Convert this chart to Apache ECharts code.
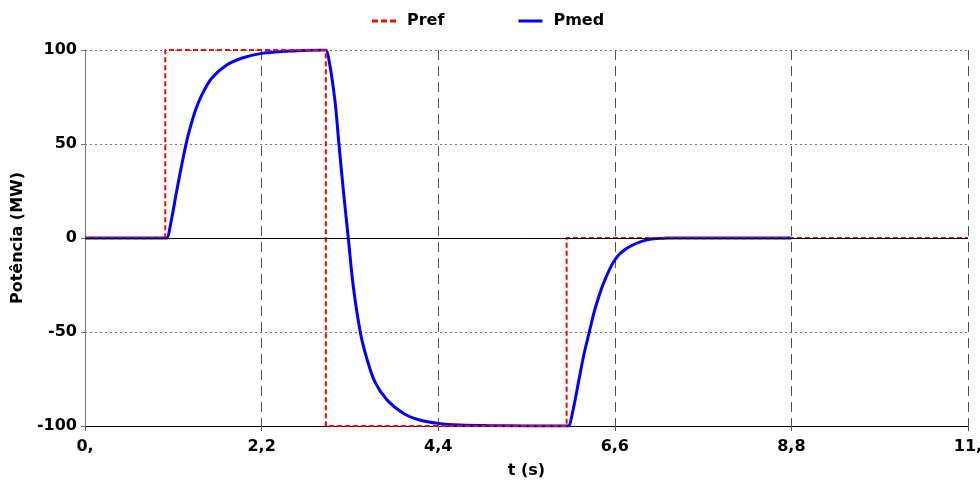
<!DOCTYPE html>
<html>
<head>
<meta charset="utf-8">
<script src="https://cdn.jsdelivr.net/npm/echarts@6/dist/echarts.min.js"></script>
<style>
  html, body { margin: 0; padding: 0; background: #fff; }
  #chart { width: 980px; height: 487px; }
</style>
</head>
<body>
<div id="chart"></div>
<script>
// Pref: reference step signal
const prefTime = [0, 1.0, 1.0, 3.0, 3.0, 6.0, 6.0, 11];
const prefValue = [0, 0, 100, 100, -100, -100, 0, 0];

const pmedTime = [0, 0.99, 1.017, 1.08, 1.14, 1.205, 1.258, 1.308, 1.37, 1.454, 1.578, 1.765, 1.97, 2.2, 2.6, 2.95, 3.0,
    3.05, 3.115, 3.164, 3.22, 3.28, 3.34, 3.43, 3.51, 3.61, 3.76, 3.97, 4.17, 4.4, 4.67, 5.0, 5.98, 6.02,
    6.08, 6.145, 6.21, 6.28, 6.35, 6.46, 6.6, 6.75, 7.0, 7.29, 7.6, 8.8];
const pmedValue = [0, 0, 0, 10.5, 24.6, 38.8, 49.8, 58.3, 67.2, 76, 85, 92, 95.9, 98.2, 99.5, 100, 100,
    92, 72.5, 49.8, 24.6, 0, -25, -50.2, -64, -76.4, -86, -93.3, -96.8, -98.6, -99.5, -99.8, -100, -100,
    -91.5, -77.3, -63, -50.4, -38.3, -24, -11.7, -5.5, -1, 0, 0, 0];

const xTicks = ['0,', '2,2', '4,4', '6,6', '8,8', '11,'];

const pairs = (t, v) => t.map((x, i) => [x, v[i]]);

const font = { fontFamily: 'DejaVu Sans', fontWeight: 'bold', fontSize: 16, color: '#000' };

const chart = echarts.init(document.getElementById('chart'));
chart.setOption({
    animation: false,
    legend: {
        top: 8,
        left: 367,
        itemWidth: 24,
        itemHeight: 3,
        itemGap: 74,
        textStyle: { ...font, padding: [0, 0, 0, 6] },
        data: [
            { name: 'Pref', icon: 'path://M0,0h6v3h-6z M9,0h6v3h-6z M18,0h6v3h-6z' },
            { name: 'Pmed', icon: 'rect' }
        ]
    },
    grid: { left: 85, right: 12, top: 50, bottom: 61, outerBoundsMode: 'none' },
    xAxis: {
        type: 'value',
        min: 0,
        max: 11,
        interval: 2.2,
        name: 't (s)',
        nameLocation: 'middle',
        nameGap: 37,
        nameTextStyle: font,
        axisLine: { onZero: false, lineStyle: { color: '#000', width: 1 } },
        axisTick: { show: true, length: 5, lineStyle: { color: '#555' } },
        axisLabel: {
            ...font,
            margin: 13,
            formatter: v => xTicks[Math.round(v / 2.2)]
        },
        splitLine: { show: true, lineStyle: { color: '#555', type: [10, 6], width: 1 } }
    },
    yAxis: {
        type: 'value',
        min: -100,
        max: 100,
        interval: 50,
        name: 'Potência (MW)',
        nameLocation: 'middle',
        nameGap: 54,
        nameTextStyle: font,
        axisLine: { show: true, lineStyle: { color: '#777', width: 1 } },
        axisTick: { show: true, length: 4, lineStyle: { color: '#777' } },
        axisLabel: { ...font, margin: 8 },
        splitLine: { show: true, lineStyle: { color: '#777', type: [2, 3], width: 1 } }
    },
    series: [
        {
            name: 'Pref',
            type: 'line',
            data: pairs(prefTime, prefValue),
            symbol: 'none',
            color: '#ff0000',
            lineStyle: { color: '#ff0000', width: 2, type: [5, 3] },
            markLine: {
                silent: true,
                symbol: 'none',
                label: { show: false },
                lineStyle: { color: '#000', type: 'solid', width: 1 },
                data: [{ yAxis: 0 }]
            },
            z: 3
        },
        {
            name: 'Pmed',
            type: 'line',
            data: pairs(pmedTime, pmedValue),
            symbol: 'none',
            smooth: 0.3,
            color: '#0000ff',
            lineStyle: { color: '#0000ff', width: 3 },
            z: 2
        }
    ]
});
</script>
</body>
</html>
